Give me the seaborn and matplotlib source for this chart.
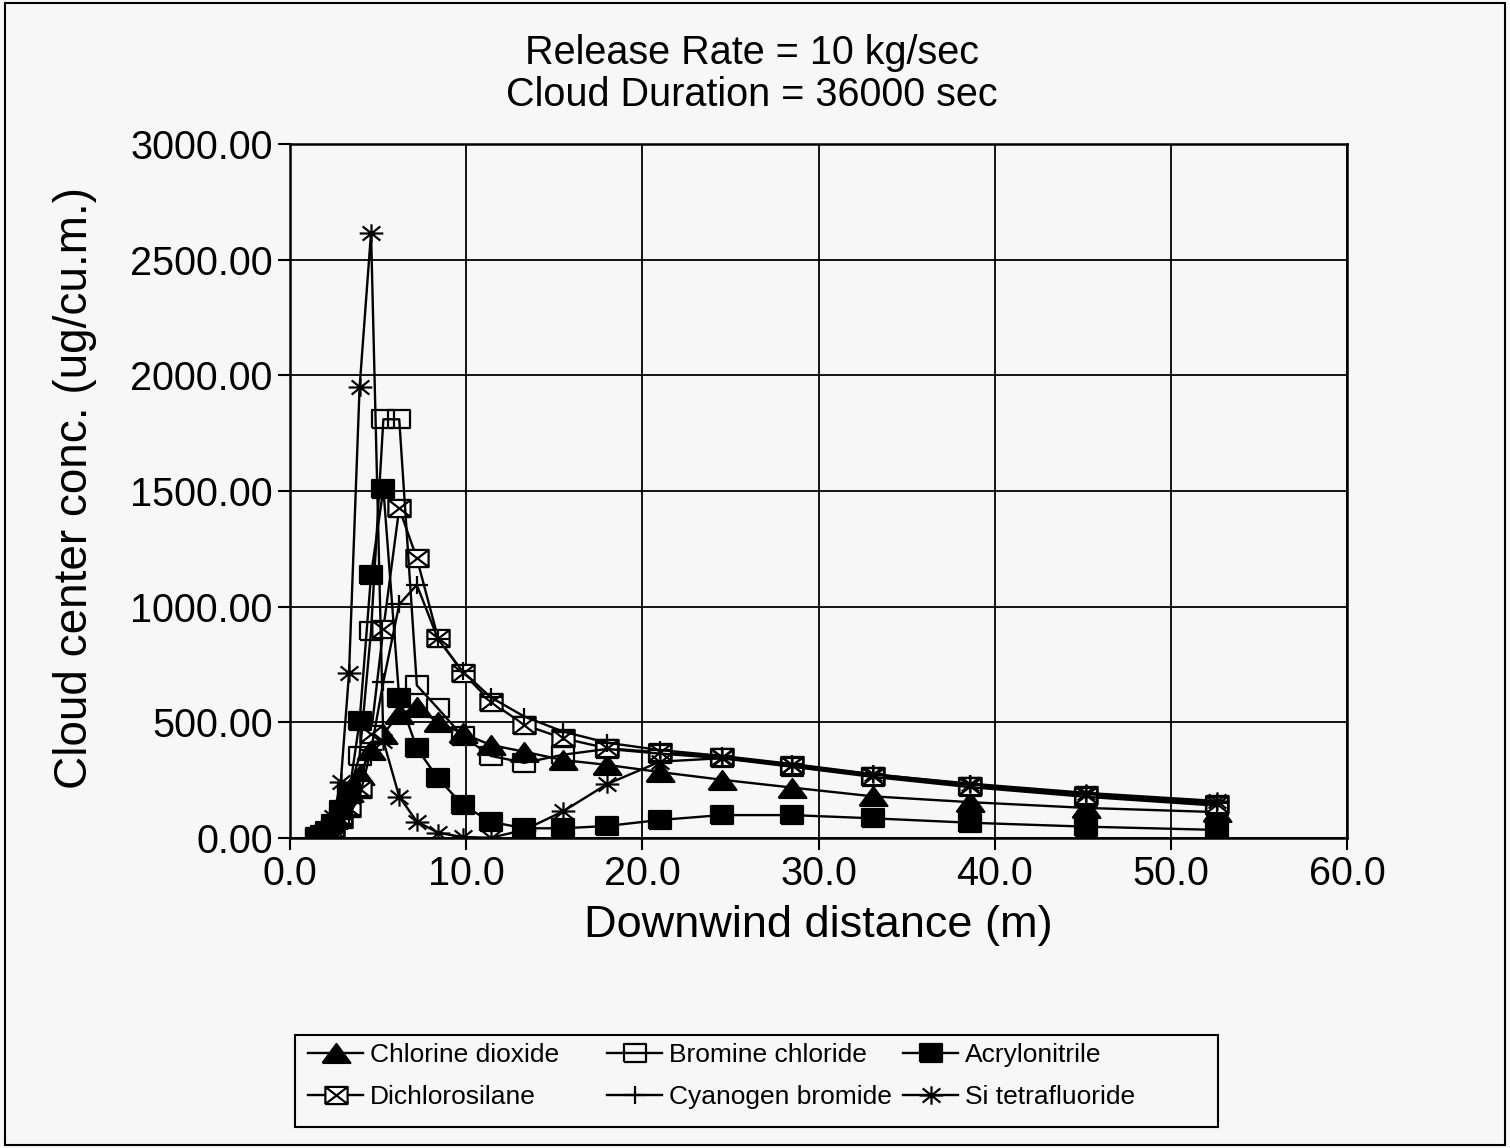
import numpy as np
import pandas as pd
import matplotlib
matplotlib.use('Agg')
import matplotlib.pyplot as plt
from matplotlib.path import Path
from matplotlib.patches import Rectangle
from matplotlib.ticker import FormatStrFormatter
import seaborn as sns

# downwind distance (m), shared by all six chemicals
distance = [1.55, 1.8, 2.1, 2.45, 2.88, 3.35, 3.95, 4.6, 5.3, 6.2, 7.2, 8.4,
            9.8, 11.4, 13.3, 15.5, 18.0, 21.0, 24.5, 28.5, 33.1, 38.6, 45.2, 52.6]

# cloud center concentration (ug/cu.m.)
chlorine_dioxide = [5, 15, 40, 80, 140, 200, 272, 380, 450, 535, 565, 500,
                    452, 402, 373, 337, 316, 285, 252, 218, 180, 155, 130, 112]
bromine_chloride = [2, 8, 20, 45, 90, 200, 355, 895, 1810, 1810, 660, 560,
                    440, 355, 325, 360, 385, 365, 345, 308, 264, 220, 178, 140]
acrylonitrile = [5, 15, 30, 60, 120, 190, 505, 1135, 1510, 605, 388, 258,
                 143, 70, 42, 42, 52, 78, 99, 99, 85, 66, 49, 35]
dichlorosilane = [2, 8, 20, 40, 80, 130, 210, 450, 905, 1425, 1209, 865,
                  715, 589, 489, 431, 388, 370, 352, 314, 270, 226, 184, 145]
cyanogen_bromide = [2, 6, 15, 35, 60, 100, 180, 380, 675, 1010, 1094, 860,
                    720, 608, 525, 460, 412, 380, 355, 320, 276, 232, 190, 152]
si_tetrafluoride = [3, 10, 35, 90, 240, 712, 1948, 2617, 420, 179, 71, 23,
                    4, 1, 35, 115, 233, 330, 345, 315, 275, 235, 195, 160]

x_ticks = [0, 10, 20, 30, 40, 50, 60]
y_ticks = [0, 500, 1000, 1500, 2000, 2500, 3000]

# marker shapes (a bit wider than tall, like the scanned original)
M, L = Path.MOVETO, Path.LINETO
tri = Path([(-1, -0.68), (1, -0.68), (0, 0.68), (-1, -0.68)], [M, L, L, L])
box = Path([(-1, -0.77), (1, -0.77), (1, 0.77), (-1, 0.77), (-1, -0.77)],
           [M, L, L, L, L])
box_x = Path([(-1, -0.77), (1, -0.77), (1, 0.77), (-1, 0.77), (-1, -0.77),
              (-1, -0.77), (1, 0.77), (-1, 0.77), (1, -0.77)],
             [M, L, L, L, L, M, L, M, L])
plus = Path([(0, -0.78), (0, 0.78), (-1, 0), (1, 0)], [M, L, M, L])
star = Path([(-1, 0), (1, 0), (0, -0.78), (0, 0.78),
             (-0.75, -0.6), (0.75, 0.6), (-0.75, 0.6), (0.75, -0.6)],
            [M, L, M, L, M, L, M, L])

series = [
    ('Chlorine dioxide', chlorine_dioxide, tri, 20, 'black'),
    ('Dichlorosilane', dichlorosilane, box_x, 16, 'white'),
    ('Bromine chloride', bromine_chloride, box, 16, 'none'),
    ('Cyanogen bromide', cyanogen_bromide, plus, 16, 'none'),
    ('Acrylonitrile', acrylonitrile, box, 16, 'black'),
    ('Si tetrafluoride', si_tetrafluoride, star, 17, 'none'),
]

W, H = 1510, 1148
bg = '#f7f7f7'
plt.rcParams['font.family'] = ['Liberation Sans', 'DejaVu Sans']

fig = plt.figure(figsize=(W / 100, H / 100), dpi=100, facecolor=bg)
ax = fig.add_axes([290 / W, 1 - 838 / H, (1347 - 290) / W, (838 - 144) / H])
ax.set_facecolor(bg)

for name, vals, mk, ms, fc in series:
    df = pd.DataFrame({'x': distance, 'y': vals})
    sns.lineplot(data=df, x='x', y='y', ax=ax, color='black', lw=1.7,
                 marker=mk, ms=ms, mfc=fc, mec='black', mew=1.6, label=name)

ax.set_xlim(0, 60)
ax.set_ylim(0, 3000)
ax.set_xticks(x_ticks)
ax.set_yticks(y_ticks)
ax.xaxis.set_major_formatter(FormatStrFormatter('%.1f'))
ax.yaxis.set_major_formatter(FormatStrFormatter('%.2f'))
ax.grid(True, color='black', lw=1.3)
ax.set_axisbelow(True)
for s in ax.spines.values():
    s.set_color('black')
    s.set_linewidth(1.8)
ax.tick_params(direction='out', length=8.5, width=1.5, labelsize=28.5, pad=4,
               colors='black')
ax.set_xlabel('')
ax.set_ylabel('')

fig.text(818 / W, 1 - 925 / H, 'Downwind distance (m)', fontsize=32.5,
         ha='center', va='center')
fig.text(75 / W, 1 - 488 / H, 'Cloud center conc. (ug/cu.m.)', fontsize=33,
         rotation=90, ha='center', va='center')
fig.text(752 / W, 1 - 74 / H, 'Release Rate = 10 kg/sec\nCloud Duration = 36000 sec',
         fontsize=28.5, ha='center', va='center', linespacing=1.1)

# legend: three fixed columns inside one box, as in the original
handles, labels = ax.get_legend_handles_labels()
ax.get_legend().remove()
col_x = [308, 607, 903]
for i, x0 in enumerate(col_x):
    fig.legend(handles[2 * i:2 * i + 2], labels[2 * i:2 * i + 2], loc='center left',
               bbox_to_anchor=(x0 / W, 1 - 1076 / H), frameon=False, fontsize=19,
               handlelength=2.1, handletextpad=0.25, labelspacing=0.68,
               borderpad=0, borderaxespad=0)
fig.patches.append(Rectangle((295 / W, 1 - 1127 / H), (1218 - 295) / W, 92 / H,
                             transform=fig.transFigure, fill=False,
                             edgecolor='black', lw=1.5))

fig.patches.append(Rectangle((0.003, 0.003), 0.994, 0.994, transform=fig.transFigure,
                             fill=False, edgecolor='black', lw=1.5))

fig.savefig('out.png', dpi=100, facecolor=bg)
